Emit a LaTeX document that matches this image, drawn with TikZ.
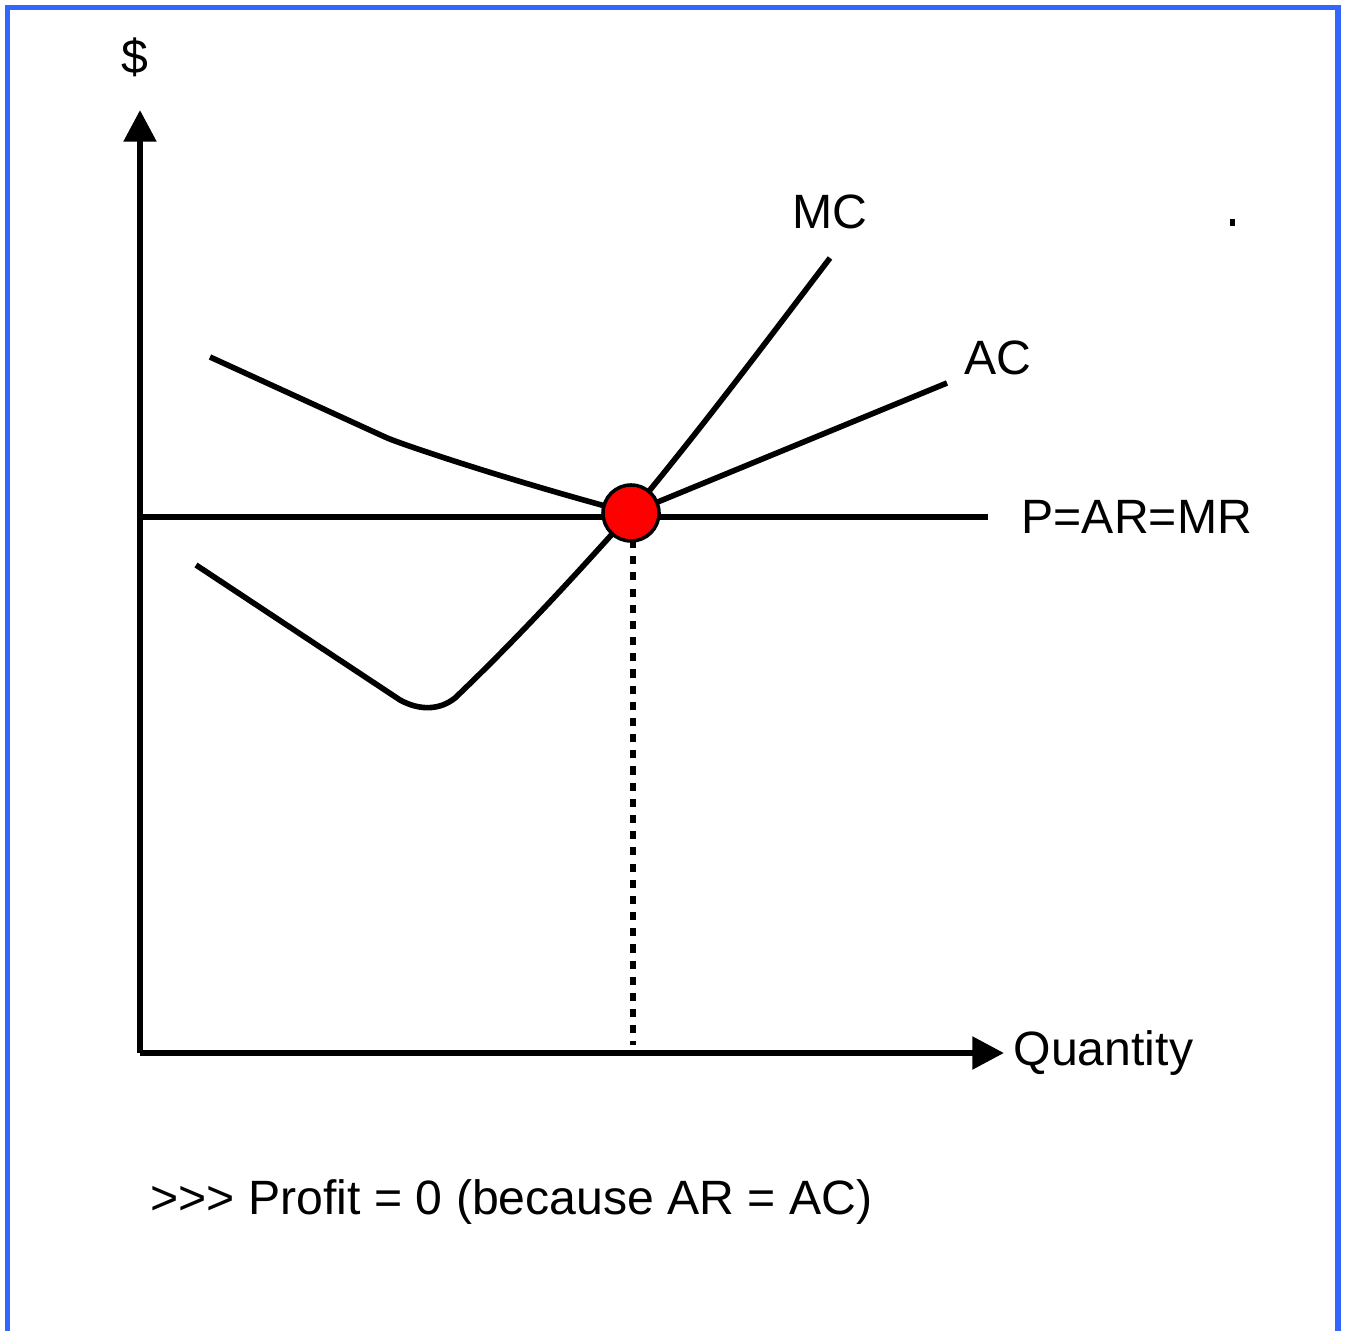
\documentclass[tikz,border=0pt]{standalone}
\usepackage{fontspec}
\setmainfont{Liberation Sans}
\usetikzlibrary{arrows.meta}
\definecolor{frameblue}{HTML}{3366FF}
\tikzset{
  curve/.style={line width=1.6pt},
  axis/.style={line width=1.8pt,-{Triangle[length=9pt,width=9pt]}},
  lbl/.style={font=\fontsize{13.7}{16}\selectfont,inner sep=0pt}
}
\begin{document}
\begin{tikzpicture}[x=0.01cm,y=-0.01cm]
  \useasboundingbox (0,0) rectangle (1346,1331);
  \draw[frameblue,line width=1.5pt] (7.5,1331) -- (7.5,7.5) -- (1338,7.5) -- (1338,1331);
  % axes
  \coordinate (o) at (140,1053);
  \coordinate (ytop) at (140,110);
  \coordinate (xend) at (1004,1053);
  \draw[axis] (o) -- (ytop);
  \draw[axis] (o) -- (xend);
  \node[lbl] (dollar) at (135,57) {\$};
  \node[lbl,anchor=west] (qty) at (1013,1053) {Quantity};
  % price line
  \coordinate (p0) at (143,517);
  \coordinate (p1) at (988,517);
  \draw[curve] (p0) -- (p1);
  \node[lbl,anchor=west] (plbl) at (1021,517) {P=AR=MR};
  % cost curves
  \draw[curve] (210,357) -- (385,437) .. controls (395,442) and (500,478) .. (631,513) -- (947,383);
  \draw[curve] (196,565) -- (400,700) .. controls (420,711) and (440,710) .. (455,698)
    .. controls (520,636) and (580,570) .. (631,513) .. controls (700,430) and (760,350) .. (830,258);
  \node[lbl] (mclbl) at (830,212) {MC};
  \node[lbl] (aclbl) at (998,358) {AC};
  \fill (1230,219) rectangle (1235,226);
  % equilibrium
  \coordinate (d0) at (633,540);
  \coordinate (d1) at (633,1045);
  \draw[line width=1.6pt,dash pattern=on 2.3pt off 2.3pt] (d0) -- (d1);
  \node[circle,fill=red,draw=black,line width=1pt,minimum size=0.56cm,inner sep=0pt] (eq) at (631,513) {};
  \node[lbl,anchor=west] (profit) at (150,1202) {>{}>{}> Profit = 0 (because AR = AC)};
\end{tikzpicture}
\end{document}
